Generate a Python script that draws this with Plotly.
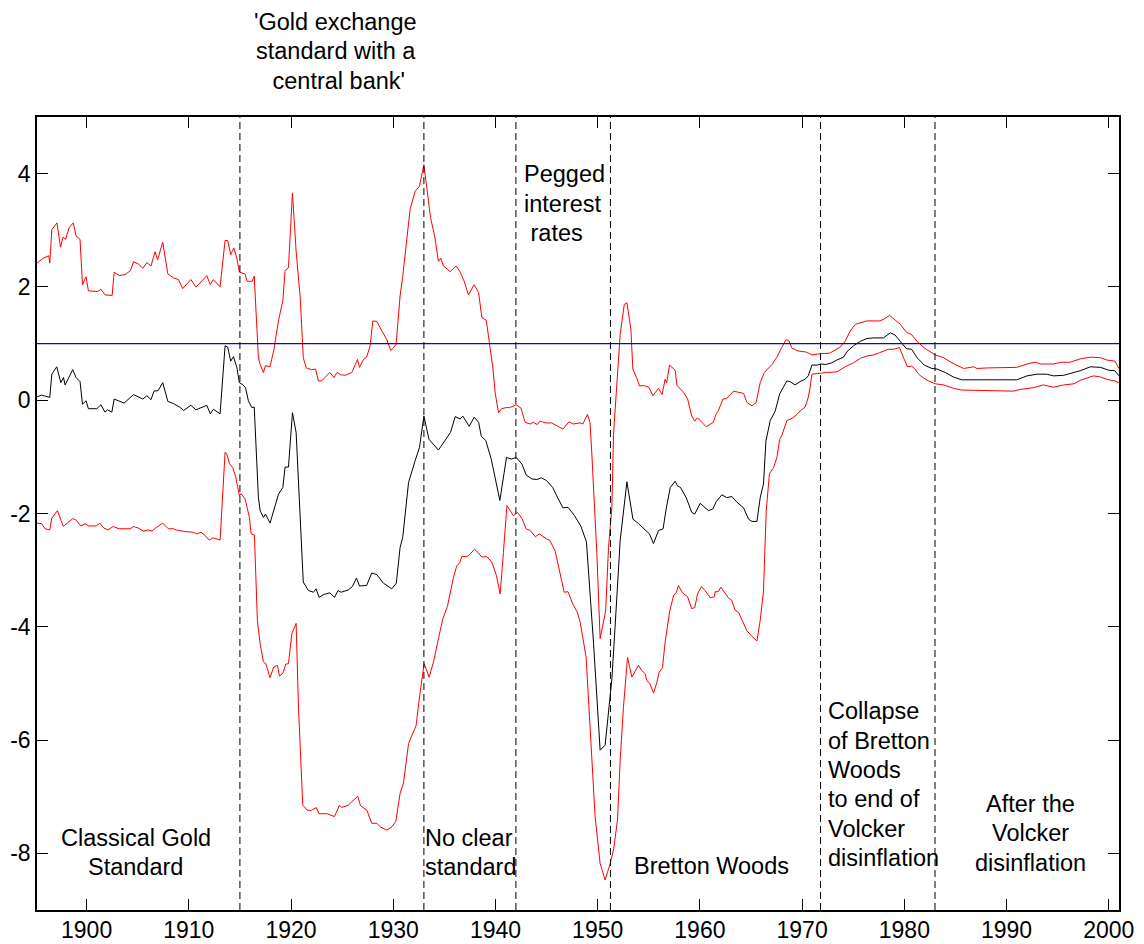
import plotly.graph_objects as go

# ---- data -------------------------------------------------------------
center_year = [1895.15, 1895.6, 1896.0, 1896.4, 1896.6, 1897.08, 1897.48, 1897.74, 1897.9, 1898.3,
               1898.65, 1898.97, 1899.36, 1899.6, 1899.95, 1900.18, 1901.0, 1901.4, 1901.8, 1902.04,
               1902.47, 1902.7, 1903.67, 1904.6, 1905.5, 1905.9, 1906.3, 1906.6, 1907.0, 1907.45,
               1907.95, 1908.5, 1909.1, 1909.5, 1910.2, 1910.7, 1911.3, 1911.76, 1912.1, 1912.4,
               1913.06, 1913.55, 1913.8, 1914.1, 1914.37, 1914.7, 1914.95, 1915.3, 1915.55, 1915.83,
               1916.16, 1916.4, 1916.81, 1916.98, 1917.3, 1917.5, 1917.95, 1918.3, 1918.77, 1919.2,
               1919.42, 1919.75, 1920.14, 1920.5, 1921.2, 1921.7, 1922.2, 1922.45, 1922.75, 1923.2,
               1923.8, 1924.25, 1924.6, 1924.9, 1925.6, 1926.0, 1926.4, 1926.7, 1927.4, 1927.9,
               1928.4, 1929.04, 1929.86, 1930.3, 1930.67, 1930.93, 1931.5, 1932.14, 1932.57, 1933.0,
               1933.5, 1934.42, 1935.24, 1935.6, 1936.06, 1936.55, 1936.8, 1937.43, 1937.92, 1938.35,
               1938.62, 1939.05, 1939.6, 1940.43, 1941.08, 1941.55, 1942.03, 1942.6, 1943.0, 1943.56,
               1944.05, 1944.5, 1945.0, 1945.6, 1946.0, 1946.6, 1947.1, 1947.7, 1948.35, 1948.9,
               1949.6, 1950.24, 1950.73, 1951.39, 1951.7, 1952.2, 1952.86, 1953.45, 1954.0, 1954.48,
               1955.06, 1955.46, 1955.95, 1956.4, 1956.7, 1957.1, 1957.58, 1957.8, 1958.1, 1958.66,
               1959.2, 1959.5, 1960.03, 1960.84, 1961.27, 1961.6, 1962.15, 1962.64, 1963.13, 1963.62,
               1964.27, 1964.76, 1965.1, 1965.58, 1965.9, 1966.22, 1966.46, 1966.88, 1967.37, 1967.8,
               1968.51, 1968.8, 1969.32, 1969.8, 1970.3, 1970.6, 1970.96, 1971.5, 1971.84, 1972.3,
               1972.9, 1973.4, 1974.05, 1974.4, 1975.03, 1975.7, 1976.34, 1977.0, 1977.96, 1978.62,
               1979.1, 1979.6, 1980.2, 1980.7, 1981.3, 1981.95, 1982.7, 1983.2, 1984.0, 1984.8,
               1985.6, 1991.0, 1992.0, 1993.0, 1993.9, 1994.6, 1995.6, 1996.2, 1997.2, 1998.2,
               1999.2, 1999.98, 2000.6, 2001.0]
center_val = [0.06, 0.09, 0.07, 0.05, 0.46, 0.59, 0.31, 0.40, 0.27, 0.43,
              0.54, 0.40, 0.33, -0.07, -0.01, -0.15, -0.15, -0.08, -0.21, -0.17,
              -0.21, 0.02, -0.05, 0.10, 0.02, 0.08, 0.01, 0.16, 0.17, 0.31,
              -0.02, -0.06, -0.12, -0.18, -0.09, -0.17, -0.12, -0.09, -0.24, -0.16,
              -0.24, 0.96, 0.94, 0.69, 0.77, 0.58, 0.31, 0.27, 0.22, -0.01,
              -0.13, -0.12, -1.72, -1.95, -2.07, -2.01, -2.17, -1.95, -1.66, -1.54,
              -1.18, -1.18, -0.22, -0.57, -3.21, -3.36, -3.39, -3.33, -3.48, -3.43,
              -3.40, -3.48, -3.36, -3.39, -3.35, -3.29, -3.14, -3.28, -3.27, -3.05,
              -3.08, -3.23, -3.33, -3.23, -2.60, -2.42, -1.45, -1.07, -0.83, -0.28,
              -0.69, -0.88, -0.66, -0.57, -0.29, -0.33, -0.28, -0.46, -0.30, -0.39,
              -0.64, -0.71, -1.05, -1.77, -1.01, -1.04, -1.01, -1.13, -1.32, -1.39,
              -1.40, -1.37, -1.42, -1.54, -1.69, -1.90, -1.89, -2.03, -2.22, -2.50,
              -4.30, -6.18, -6.09, -4.92, -4.01, -2.48, -1.44, -2.10, -2.18, -2.27,
              -2.36, -2.53, -2.30, -2.27, -1.92, -1.54, -1.43, -1.51, -1.54, -1.72,
              -1.98, -2.01, -1.82, -1.95, -1.92, -1.79, -1.67, -1.72, -1.70, -1.80,
              -1.90, -2.10, -2.14, -2.14, -1.72, -1.48, -0.72, -0.36, -0.19, 0.11,
              0.34, 0.33, 0.27, 0.33, 0.37, 0.43, 0.62, 0.62, 0.64, 0.63,
              0.66, 0.71, 0.76, 0.86, 0.96, 1.04, 1.09, 1.10, 1.10, 1.19,
              1.15, 1.04, 0.91, 0.90, 0.74, 0.62, 0.56, 0.55, 0.49, 0.41,
              0.36, 0.36, 0.43, 0.46, 0.46, 0.43, 0.44, 0.47, 0.52, 0.59,
              0.58, 0.53, 0.52, 0.43]

upper_year = [1895.15, 1895.77, 1896.3, 1896.4, 1896.6, 1897.1, 1897.45, 1897.7, 1897.95, 1898.3,
              1898.7, 1898.97, 1899.36, 1899.6, 1899.95, 1900.18, 1901.1, 1901.4, 1901.8, 1902.5,
              1902.7, 1903.2, 1903.8, 1904.3, 1904.6, 1905.1, 1905.5, 1905.9, 1906.3, 1906.7,
              1906.95, 1907.45, 1907.95, 1908.5, 1909.0, 1909.4, 1910.2, 1910.7, 1911.1, 1911.76,
              1912.1, 1912.4, 1913.06, 1913.55, 1913.8, 1914.1, 1914.4, 1914.7, 1914.95, 1915.5,
              1915.7, 1916.2, 1916.4, 1916.81, 1916.98, 1917.3, 1917.5, 1917.95, 1918.3, 1918.77,
              1919.2, 1919.42, 1919.75, 1920.14, 1920.5, 1920.9, 1921.2, 1921.5, 1922.0, 1922.4,
              1922.68, 1923.0, 1923.3, 1923.8, 1924.2, 1924.5, 1924.85, 1925.3, 1925.95, 1926.5,
              1926.7, 1927.08, 1927.4, 1927.74, 1928.0, 1928.4, 1928.9, 1929.37, 1929.76, 1930.0,
              1930.28, 1930.67, 1930.93, 1931.33, 1931.65, 1932.14, 1932.57, 1933.0, 1933.65, 1934.05,
              1934.42, 1934.65, 1934.91, 1935.57, 1936.15, 1936.5, 1936.94, 1937.36, 1937.92, 1938.35,
              1938.67, 1939.1, 1939.4, 1939.75, 1939.97, 1940.3, 1940.6, 1941.05, 1941.4, 1942.03,
              1942.5, 1942.9, 1943.4, 1943.7, 1944.1, 1944.35, 1944.98, 1945.5, 1946.0, 1946.6,
              1947.2, 1947.6, 1948.29, 1948.55, 1949.0, 1949.25, 1949.43, 1949.92, 1950.24, 1950.78,
              1951.06, 1951.39, 1951.55, 1951.88, 1952.2, 1952.6, 1952.86, 1953.25, 1953.44, 1953.8,
              1954.1, 1954.5, 1955.0, 1955.4, 1955.95, 1956.3, 1956.6, 1956.75, 1957.03, 1957.58,
              1957.76, 1958.4, 1958.8, 1959.2, 1959.5, 1959.76, 1960.62, 1961.3, 1961.6, 1961.8,
              1962.25, 1962.6, 1963.3, 1964.27, 1964.6, 1965.1, 1965.5, 1965.9, 1966.3, 1967.05,
              1967.5, 1968.0, 1968.44, 1968.7, 1969.0, 1969.6, 1970.4, 1970.96, 1971.7, 1972.7,
              1973.66, 1974.2, 1974.7, 1975.2, 1975.7, 1976.34, 1977.6, 1978.1, 1978.55, 1979.1,
              1979.6, 1980.2, 1980.7, 1981.3, 1981.9, 1982.4, 1983.02, 1983.84, 1984.66, 1985.8,
              1986.8, 1987.1, 1988.1, 1991.0, 1992.0, 1992.8, 1993.3, 1994.6, 1995.3, 1996.2,
              1997.2, 1998.2, 1999.2, 1999.8, 2000.6, 2001.0]
upper_val = [2.42, 2.51, 2.55, 2.42, 3.01, 3.13, 2.70, 2.88, 2.84, 3.05,
             3.13, 2.90, 2.84, 2.04, 2.18, 1.93, 1.92, 1.96, 1.86, 1.85,
             2.26, 2.20, 2.22, 2.29, 2.45, 2.40, 2.33, 2.43, 2.37, 2.62,
             2.48, 2.79, 2.23, 2.16, 2.13, 1.97, 2.13, 2.00, 2.07, 2.20,
             2.04, 2.13, 2.00, 2.82, 2.82, 2.57, 2.69, 2.51, 2.26, 2.23,
             2.10, 2.10, 2.19, 0.75, 0.63, 0.49, 0.61, 0.59, 0.87, 1.40,
             1.76, 2.29, 2.34, 3.66, 2.63, 1.81, 0.75, 0.57, 0.54, 0.55,
             0.34, 0.34, 0.40, 0.49, 0.40, 0.49, 0.45, 0.44, 0.49, 0.72,
             0.58, 0.72, 0.76, 0.96, 1.40, 1.39, 1.22, 1.07, 0.88, 0.92,
             0.99, 1.84, 2.19, 2.84, 3.37, 3.69, 3.78, 4.16, 3.22, 2.90,
             2.45, 2.51, 2.37, 2.27, 2.37, 2.28, 2.10, 1.86, 2.04, 1.90,
             1.46, 1.41, 1.04, 0.57, 0.13, -0.22, -0.15, -0.13, -0.13, -0.08,
             -0.14, -0.39, -0.42, -0.39, -0.43, -0.37, -0.40, -0.40, -0.45, -0.51,
             -0.38, -0.42, -0.40, -0.42, -0.25, -0.39, -0.95, -2.71, -4.21, -3.72,
             -2.60, -1.89, -0.60, 0.28, 1.16, 1.69, 1.72, 1.25, 0.55, 0.40,
             0.25, 0.26, 0.23, 0.08, 0.21, 0.10, 0.37, 0.31, 0.62, 0.53,
             0.26, 0.14, 0.02, -0.28, -0.37, -0.31, -0.47, -0.39, -0.24, -0.19,
             0.02, 0.03, 0.16, 0.12, -0.04, -0.10, -0.04, 0.31, 0.49, 0.63,
             0.75, 0.93, 1.07, 1.05, 0.92, 0.87, 0.85, 0.80, 0.82, 0.83,
             0.93, 1.04, 1.22, 1.34, 1.37, 1.40, 1.40, 1.44, 1.50, 1.41,
             1.34, 1.20, 1.16, 1.03, 0.93, 0.87, 0.80, 0.75, 0.66, 0.56,
             0.59, 0.56, 0.57, 0.58, 0.64, 0.67, 0.64, 0.64, 0.67, 0.67,
             0.73, 0.76, 0.75, 0.71, 0.69, 0.56]

lower_year = [1895.15, 1895.6, 1895.94, 1896.4, 1896.6, 1897.15, 1897.5, 1897.73, 1898.1, 1898.65,
              1899.0, 1899.43, 1899.87, 1900.2, 1900.93, 1901.3, 1901.7, 1902.1, 1902.6, 1903.2,
              1904.26, 1904.6, 1905.1, 1905.56, 1906.0, 1906.4, 1906.8, 1907.45, 1908.0, 1908.5,
              1908.8, 1909.64, 1910.45, 1910.78, 1911.2, 1911.6, 1912.0, 1912.35, 1912.74, 1913.06,
              1913.55, 1913.7, 1913.98, 1914.3, 1914.6, 1914.95, 1915.1, 1915.5, 1915.93, 1916.1,
              1916.42, 1916.71, 1916.98, 1917.3, 1917.55, 1917.95, 1918.3, 1918.67, 1918.87, 1919.2,
              1919.49, 1919.75, 1920.08, 1920.5, 1920.73, 1921.15, 1921.6, 1922.0, 1922.46, 1922.75,
              1923.5, 1924.25, 1924.74, 1924.95, 1925.6, 1926.53, 1926.8, 1927.42, 1927.9, 1928.4,
              1928.7, 1929.37, 1929.86, 1930.25, 1930.67, 1931.0, 1931.5, 1931.8, 1932.24, 1932.57,
              1933.02, 1933.51, 1933.94, 1934.42, 1934.85, 1935.3, 1935.89, 1936.2, 1936.5, 1936.71,
              1937.2, 1937.5, 1937.95, 1938.3, 1938.67, 1939.15, 1939.65, 1940.1, 1940.46, 1940.78,
              1941.12, 1941.45, 1941.76, 1942.15, 1942.6, 1943.0, 1943.4, 1943.9, 1944.3, 1945.0,
              1945.3, 1945.84, 1946.33, 1946.72, 1947.1, 1947.57, 1948.0, 1948.29, 1948.87, 1949.33,
              1949.75, 1950.24, 1950.73, 1951.22, 1951.55, 1951.94, 1952.2, 1952.52, 1952.92, 1953.35,
              1953.6, 1953.99, 1954.3, 1954.65, 1954.8, 1955.1, 1955.46, 1955.79, 1956.0, 1956.34,
              1956.6, 1957.03, 1957.42, 1957.7, 1957.9, 1958.3, 1958.79, 1959.2, 1959.5, 1959.77,
              1960.15, 1960.5, 1961.03, 1961.4, 1961.5, 1961.8, 1962.05, 1962.4, 1962.8, 1963.1,
              1963.45, 1963.8, 1964.1, 1964.6, 1965.1, 1965.58, 1965.9, 1966.22, 1966.49, 1966.8,
              1967.2, 1967.54, 1967.8, 1968.0, 1968.51, 1969.1, 1969.5, 1969.8, 1970.3, 1970.6,
              1970.8, 1970.96, 1971.5, 1971.84, 1972.4, 1973.4, 1974.2, 1975.03, 1975.7, 1976.34,
              1977.0, 1977.6, 1978.45, 1979.0, 1979.53, 1979.85, 1980.3, 1980.7, 1981.0, 1981.4,
              1981.8, 1982.37, 1983.02, 1983.84, 1984.8, 1985.6, 1989.0, 1990.7, 1991.3, 1992.6,
              1993.6, 1994.6, 1995.6, 1996.6, 1997.2, 1997.9, 1998.5, 1999.2, 1999.8, 2000.6,
              2001.0]
lower_val = [-2.17, -2.18, -2.27, -2.29, -2.08, -1.95, -2.12, -2.23, -2.17, -2.09,
             -2.12, -2.22, -2.18, -2.22, -2.22, -2.17, -2.26, -2.29, -2.23, -2.27,
             -2.27, -2.23, -2.26, -2.31, -2.29, -2.31, -2.25, -2.17, -2.27, -2.27,
             -2.29, -2.32, -2.33, -2.36, -2.33, -2.39, -2.47, -2.43, -2.45, -2.47,
             -0.92, -0.94, -1.12, -1.19, -1.36, -1.69, -1.65, -1.74, -2.07, -2.36,
             -2.38, -3.89, -4.30, -4.62, -4.66, -4.90, -4.71, -4.68, -4.87, -4.82,
             -4.66, -4.65, -4.12, -3.94, -5.42, -7.15, -7.24, -7.24, -7.19, -7.30,
             -7.30, -7.35, -7.15, -7.19, -7.15, -6.99, -7.16, -7.24, -7.47, -7.47,
             -7.53, -7.59, -7.53, -7.44, -6.94, -6.76, -6.06, -5.94, -5.74, -5.24,
             -4.65, -4.89, -4.62, -4.21, -3.86, -3.64, -3.13, -2.93, -2.87, -2.76,
             -2.76, -2.72, -2.63, -2.69, -2.77, -2.76, -2.86, -3.10, -3.42, -2.69,
             -1.86, -1.95, -2.04, -1.98, -2.09, -2.27, -2.30, -2.41, -2.36, -2.45,
             -2.47, -2.66, -3.07, -3.39, -3.38, -3.60, -3.74, -3.92, -4.54, -6.00,
             -7.35, -8.18, -8.47, -8.18, -7.94, -7.41, -6.36, -5.42, -4.54, -4.89,
             -4.81, -4.68, -4.77, -4.83, -4.95, -5.00, -5.17, -4.98, -4.81, -4.72,
             -4.27, -3.74, -3.45, -3.39, -3.27, -3.40, -3.47, -3.68, -3.66, -3.42,
             -3.29, -3.36, -3.49, -3.47, -3.38, -3.38, -3.30, -3.39, -3.49, -3.53,
             -3.71, -3.75, -3.88, -4.07, -4.17, -4.25, -3.89, -3.37, -1.95, -1.30,
             -1.19, -1.01, -0.69, -0.63, -0.36, -0.31, -0.25, -0.19, -0.12, 0.05,
             0.25, 0.46, 0.47, 0.48, 0.49, 0.50, 0.59, 0.66, 0.74, 0.78,
             0.80, 0.84, 0.90, 0.90, 0.93, 0.78, 0.59, 0.60, 0.56, 0.46,
             0.40, 0.34, 0.29, 0.27, 0.21, 0.18, 0.17, 0.16, 0.19, 0.22,
             0.27, 0.23, 0.27, 0.29, 0.35, 0.40, 0.43, 0.41, 0.37, 0.34,
             0.31]

regime_breaks = [1915.0, 1933.0, 1942.0, 1951.25, 1971.8, 1983.0]
reference_level = 1.0

x_ticks = [1900, 1910, 1920, 1930, 1940, 1950, 1960, 1970, 1980, 1990, 2000]
y_ticks = [-8, -6, -4, -2, 0, 2, 4]

# regime labels inside the axes: (lines, x, y of first line, anchor)
regime_labels = [
    (["Pegged", "interest", "&nbsp;rates"], 1942.6, 3.99, "left"),
    (["Classical Gold", "Standard"], 1904.8, -7.73, "center"),
    (["No clear", "standard"], 1932.95, -7.73, "left"),
    (["Bretton Woods"], 1961.1, -8.22, "center"),
    (["Collapse", "of Bretton", "Woods", "to end of", "Volcker", "disinflation"],
     1972.3, -5.49, "left"),
    (["After the", "Volcker", "disinflation"], 1992.3, -7.13, "center"),
]
# label above the axes, y of first line in paper units
top_label = (["'Gold exchange", "standard with a", "&nbsp;central bank'"], 1924.4, 1.1198)

FONT = "Arial, Liberation Sans, sans-serif"
TEXT_SIZE = 23.5
TICK_SIZE = 23
LINE_PX = 29.4          # distance between text lines in pixels
PLOT_H_PX = 793         # height of the plotting area in pixels
Y_SPAN = 14.0           # y-axis span in data units

# ---- figure -----------------------------------------------------------
fig = go.Figure()

for xs, ys, col in [(upper_year, upper_val, "#FF0000"),
                    (lower_year, lower_val, "#FF0000"),
                    (center_year, center_val, "#000000")]:
    fig.add_trace(go.Scatter(x=xs, y=ys, mode="lines",
                             line=dict(color=col, width=1),
                             showlegend=False, hoverinfo="skip"))

for xb in regime_breaks:
    fig.add_shape(type="line", xref="x", yref="paper", x0=xb, x1=xb, y0=0, y1=1,
                  line=dict(color="black", width=1, dash="7px,4px"))

fig.add_shape(type="line", xref="paper", yref="y", x0=0, x1=1,
              y0=reference_level, y1=reference_level,
              line=dict(color="#0000FF", width=1.2))

text_font = dict(family=FONT, size=TEXT_SIZE, color="black")
step_data = LINE_PX * Y_SPAN / PLOT_H_PX
for lines, x, y0, anchor in regime_labels:
    for i, line in enumerate(lines):
        fig.add_annotation(x=x, y=y0 - i * step_data, xref="x", yref="y", text=line,
                           showarrow=False, xanchor=anchor, yanchor="middle",
                           font=text_font)

step_paper = LINE_PX / PLOT_H_PX
for i, line in enumerate(top_label[0]):
    fig.add_annotation(x=top_label[1], y=top_label[2] - i * step_paper, xref="x",
                       yref="paper", text=line, showarrow=False, xanchor="center",
                       yanchor="middle", font=text_font)

axis_common = dict(showline=True, linecolor="black", linewidth=1.5, mirror="ticks",
                   ticks="inside", ticklen=11, tickwidth=1, tickcolor="black",
                   showgrid=False, zeroline=False, automargin=False,
                   tickfont=dict(family=FONT, size=TICK_SIZE, color="black"))

fig.update_xaxes(range=[1895.15, 2001.0], tickvals=x_ticks,
                 ticktext=[str(t) for t in x_ticks], ticklabelstandoff=-1,
                 **axis_common)
fig.update_yaxes(range=[-9, 5], tickvals=y_ticks,
                 ticktext=[str(t) for t in y_ticks], **axis_common)

fig.update_layout(width=1144, height=944,
                  margin=dict(l=37, r=25, t=117, b=34),
                  paper_bgcolor="white", plot_bgcolor="white",
                  font=dict(family=FONT, size=TICK_SIZE, color="black"))

fig.write_html("out.html")
